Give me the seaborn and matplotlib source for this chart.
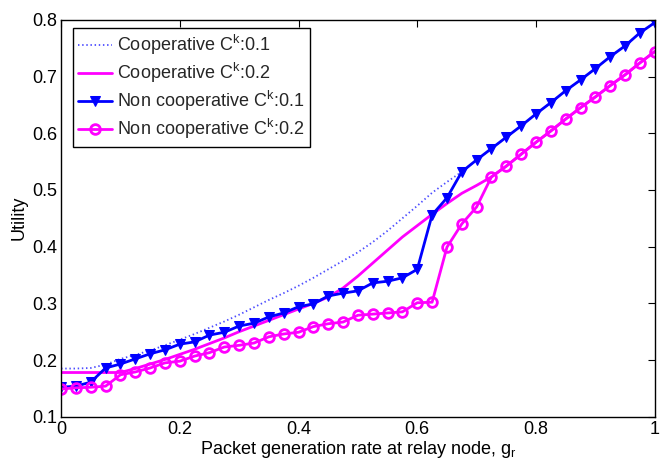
import numpy as np
import pandas as pd
import seaborn as sns
import matplotlib
matplotlib.use("Agg")
import matplotlib.pyplot as plt

sns.set_theme(style="white")
plt.rcParams['font.family'] = ['Liberation Sans', 'DejaVu Sans']
plt.rcParams['mathtext.fontset'] = 'custom'
plt.rcParams['mathtext.rm'] = 'Liberation Sans'
plt.rcParams['mathtext.it'] = 'Liberation Sans'
plt.rcParams['mathtext.default'] = 'regular'

g = [round(0.025 * i, 3) for i in range(41)]

noncoop_01 = [0.152, 0.154, 0.161, 0.186, 0.193, 0.202, 0.211, 0.218, 0.228, 0.232,
              0.244, 0.249, 0.260, 0.265, 0.276, 0.283, 0.294, 0.299, 0.313, 0.318,
              0.322, 0.336, 0.339, 0.345, 0.360, 0.456, 0.486, 0.532, 0.553, 0.573,
              0.593, 0.613, 0.634, 0.654, 0.675, 0.694, 0.714, 0.735, 0.754, 0.777, 0.795]

noncoop_02 = [0.149, 0.151, 0.152, 0.154, 0.174, 0.179, 0.186, 0.195, 0.198, 0.207,
              0.213, 0.223, 0.226, 0.230, 0.241, 0.246, 0.249, 0.259, 0.264, 0.267,
              0.279, 0.281, 0.283, 0.285, 0.301, 0.302, 0.399, 0.440, 0.470, 0.523,
              0.542, 0.563, 0.584, 0.604, 0.625, 0.645, 0.664, 0.684, 0.703, 0.724, 0.744]

coop_01 = [0.185, 0.185, 0.186, 0.192, 0.202, 0.209, 0.217, 0.226, 0.236, 0.246,
           0.257, 0.268, 0.280, 0.293, 0.306, 0.318, 0.331, 0.345, 0.360, 0.375,
           0.390, 0.408, 0.428, 0.450, 0.472, 0.495, 0.514, 0.532, 0.553, 0.573,
           0.593, 0.613, 0.634, 0.654, 0.675, 0.694, 0.714, 0.735, 0.754, 0.777, 0.795]

coop_02 = [0.178, 0.178, 0.178, 0.178, 0.178, 0.185, 0.193, 0.201, 0.210, 0.219,
           0.229, 0.239, 0.250, 0.260, 0.270, 0.280, 0.290, 0.300, 0.311, 0.327,
           0.348, 0.371, 0.394, 0.417, 0.437, 0.457, 0.476, 0.494, 0.508, 0.523,
           0.542, 0.563, 0.584, 0.604, 0.625, 0.645, 0.664, 0.684, 0.703, 0.724, 0.744]

labels = ['Cooperative C$^k$:0.1', 'Cooperative C$^k$:0.2',
          'Non cooperative C$^k$:0.1', 'Non cooperative C$^k$:0.2']

FS = 13

fig = plt.figure(figsize=(6.64, 4.61), dpi=100)
ax = fig.add_axes([0.092, 0.096, 0.894, 0.861])

sns.lineplot(x=g, y=coop_01, ax=ax, color=(0.3, 0.3, 1.0), lw=1.3,
             linestyle=(0, (0.8, 1.5)), label=labels[0])
sns.lineplot(x=g, y=coop_02, ax=ax, color=(1, 0, 1), lw=2, label=labels[1])
sns.lineplot(x=g, y=noncoop_01, ax=ax, color=(0, 0, 1), lw=2, marker='v',
             markersize=7, markeredgecolor=(0, 0, 1), markerfacecolor=(0, 0, 1),
             label=labels[2])
sns.lineplot(x=g, y=noncoop_02, ax=ax, color=(1, 0, 1), lw=2, marker='o',
             markersize=7, markeredgecolor=(1, 0, 1), markerfacecolor='none',
             markeredgewidth=2, label=labels[3])

ax.set_xlim(0, 1)
ax.set_ylim(0.1, 0.8)
ax.set_xticks([0, 0.2, 0.4, 0.6, 0.8, 1])
ax.set_xticklabels(['0', '0.2', '0.4', '0.6', '0.8', '1'])
ax.set_yticks([0.1, 0.2, 0.3, 0.4, 0.5, 0.6, 0.7, 0.8])
ax.set_yticklabels(['0.1', '0.2', '0.3', '0.4', '0.5', '0.6', '0.7', '0.8'])
ax.tick_params(direction='in', length=5, width=0.8, top=True, right=True,
               labelsize=FS, colors='black', pad=3)
for s in ax.spines.values():
    s.set_color('black')
    s.set_linewidth(1.0)

ax.set_xlabel('Packet generation rate at relay node, g$_r$', fontsize=FS,
              color='black', labelpad=1)
ax.set_ylabel('Utility', fontsize=FS, color='black', labelpad=3)

leg = ax.legend(loc='upper left', bbox_to_anchor=(0.0197, 0.98), fontsize=FS,
                frameon=True, fancybox=False, edgecolor='black', framealpha=1,
                handlelength=1.85, handletextpad=0.3, borderpad=0.3,
                labelspacing=0.22, borderaxespad=0)
leg.get_frame().set_linewidth(1.0)

fig.savefig('out.png', dpi=100)
